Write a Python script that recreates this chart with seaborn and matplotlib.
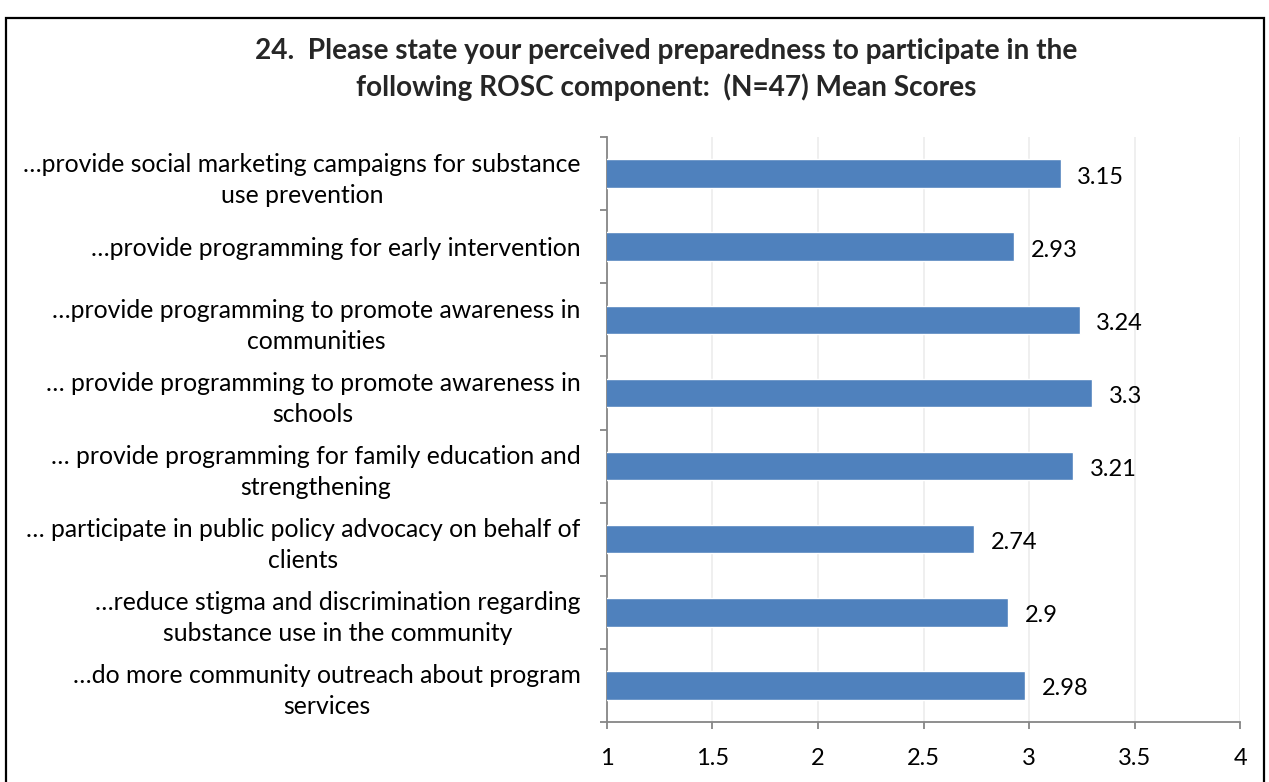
import matplotlib
matplotlib.use("Agg")
import matplotlib.pyplot as plt
import seaborn as sns
import pandas as pd
from matplotlib.patches import Rectangle
from matplotlib.ticker import FixedLocator

# Survey components (top to bottom) and their mean preparedness scores
components = [
    "…provide social marketing campaigns for substance\nuse prevention",
    "…provide programming for early intervention",
    "…provide programming to promote awareness in\ncommunities",
    "… provide programming to promote awareness in\nschools",
    "… provide programming for family education and\nstrengthening",
    "… participate in public policy advocacy on behalf of\nclients",
    "…reduce stigma and discrimination regarding\nsubstance use in the community",
    "…do more community outreach about program\nservices",
]
mean_scores = [3.15, 2.93, 3.24, 3.3, 3.21, 2.74, 2.9, 2.98]
x_ticks = [1, 1.5, 2, 2.5, 3, 3.5, 4]

title = ("24.  Please state your perceived preparedness to participate in the\n"
         "following ROSC component:  (N=47) Mean Scores")

df = pd.DataFrame({"component": components, "score": mean_scores})

sns.set_theme(style="white")
plt.rcParams["font.family"] = ["Lato", "DejaVu Sans"]

fig = plt.figure(figsize=(12.69, 7.82), dpi=100)
ax = fig.add_axes([0.4783, 0.0767, 0.4989, 0.7481])

sns.barplot(data=df, y="component", x="score", orient="h",
            color="#4f81bd", saturation=1, width=0.39, ax=ax, zorder=3)

ax.set_xlim(1, 4)
ax.set_ylim(len(components) - 0.5, -0.5)
ax.set_xlabel("")
ax.set_ylabel("")

# light vertical gridlines
ax.xaxis.set_major_locator(FixedLocator(x_ticks))
ax.set_xticklabels([f"{t:g}" for t in x_ticks])
ax.grid(axis="x", color="#ececec", linewidth=1.2, zorder=0)
ax.grid(axis="y", visible=False)

# spines: only left and bottom, grey
for side in ("top", "right"):
    ax.spines[side].set_visible(False)
for side in ("left", "bottom"):
    ax.spines[side].set_color("#868686")
    ax.spines[side].set_linewidth(1.3)

# category tick marks sit between categories
ax.yaxis.set_minor_locator(FixedLocator([i - 0.5 for i in range(len(components) + 1)]))
ax.tick_params(axis="y", which="minor", direction="out", length=5,
               width=1.3, color="#868686", left=True)
ax.tick_params(axis="y", which="major", length=0, pad=19, labelsize=17.8,
               labelcolor="black")
ax.tick_params(axis="x", which="major", direction="out", length=5, width=1.3,
               color="#868686", bottom=True, pad=14, labelsize=17,
               labelcolor="black")
for lbl in ax.get_yticklabels():
    lbl.set_multialignment("center")
    lbl.set_linespacing(1.42)

# value labels
for i, v in enumerate(mean_scores):
    ax.annotate(f"{v:g}", xy=(v, i), xytext=(12, -2.5), textcoords="offset points",
                ha="left", va="center", fontsize=17, color="black")

fig.text(0.525, 0.911, title, ha="center", va="center", fontsize=20.2,
         fontweight="bold", linespacing=1.4)

# chart frame
fig.patches.append(Rectangle((0.0045, -0.05), 0.9915, 1.05 - 0.0225,
                             transform=fig.transFigure, fill=False,
                             edgecolor="black", linewidth=1.6))

fig.savefig("out.png", dpi=100)
